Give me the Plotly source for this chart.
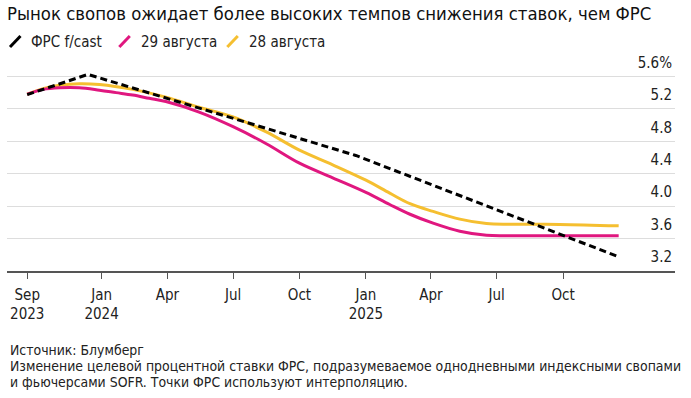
import plotly.graph_objects as go

# ---- data ----
fed_dates = ["2023-09-20", "2023-12-13", "2024-12-18", "2025-12-17"]
fed_vals = [5.375, 5.625, 4.625, 3.375]

aug29_dates = ["2023-09-20", "2023-10-12", "2023-11-04", "2023-12-01", "2023-12-29",
               "2024-01-21", "2024-02-13", "2024-03-07", "2024-03-30", "2024-05-15",
               "2024-07-01", "2024-08-16", "2024-10-01", "2024-11-16", "2025-01-01",
               "2025-02-03", "2025-03-03", "2025-04-04", "2025-05-11", "2025-06-17",
               "2025-07-19", "2025-09-26", "2025-12-17"]
aug29_vals = [5.38, 5.44, 5.46, 5.46, 5.43,
              5.40, 5.37, 5.33, 5.29, 5.16,
              4.98, 4.77, 4.53, 4.35, 4.17,
              4.02, 3.90, 3.79, 3.69, 3.64,
              3.635, 3.635, 3.635]

aug28_dates = ["2023-09-20", "2023-10-12", "2023-11-04", "2023-12-01", "2023-12-29",
               "2024-02-13", "2024-03-30", "2024-05-15", "2024-07-01", "2024-08-16",
               "2024-10-01", "2024-11-16", "2025-01-01", "2025-02-03", "2025-03-03",
               "2025-04-04", "2025-05-11", "2025-06-17", "2025-07-19", "2025-09-26",
               "2025-12-17"]
aug28_vals = [5.38, 5.45, 5.49, 5.51, 5.50,
              5.44, 5.345, 5.22, 5.10, 4.915,
              4.69, 4.51, 4.32, 4.16, 4.03,
              3.935, 3.84, 3.785, 3.776, 3.775,
              3.757]

series_names = ["ФРС f/cast", "29 августа", "28 августа"]

x_tick_vals = ["2023-09-20", "2024-01-01", "2024-04-01", "2024-07-01", "2024-10-01",
               "2025-01-01", "2025-04-01", "2025-07-01", "2025-10-01"]
x_tick_text = ["Sep<br>2023", "Jan<br>2024", "Apr", "Jul", "Oct",
               "Jan<br>2025", "Apr", "Jul", "Oct"]
y_tick_vals = [3.2, 3.6, 4.0, 4.4, 4.8, 5.2, 5.6]
y_tick_text = ["3.2", "3.6", "4.0", "4.4", "4.8", "5.2", "5.6%"]

title_text = "Рынок свопов ожидает более высоких темпов снижения ставок, чем ФРС"
footer_lines = [
    "Источник: Блумберг",
    "Изменение целевой процентной ставки ФРС, подразумеваемое однодневными индексными свопами",
    "и фьючерсами SOFR. Точки ФРС используют интерполяцию.",
]

# ---- styling / layout constants ----
FONT = "Liberation Sans Narrow, Arial Narrow, DejaVu Sans Condensed, Liberation Sans, sans-serif"
PINK = "#E0177F"
YELLOW = "#F5BF30"
BLACK = "#000000"
colors = [BLACK, PINK, YELLOW]

W, H = 691, 398
ML, MR, MT, MB = 7, 16, 43.5, 127
PW, PH = W - ML - MR, H - MT - MB


def px_x(px):
    return (px - ML) / PW


def px_y(py):
    return (H - MB - py) / PH


fig = go.Figure()
fig.add_trace(go.Scatter(x=aug28_dates, y=aug28_vals, name=series_names[2], mode="lines",
                         line=dict(color=YELLOW, width=3, shape="spline", smoothing=1.0)))
fig.add_trace(go.Scatter(x=aug29_dates, y=aug29_vals, name=series_names[1], mode="lines",
                         line=dict(color=PINK, width=3, shape="spline", smoothing=1.0)))
fig.add_trace(go.Scatter(x=fed_dates, y=fed_vals, name=series_names[0], mode="lines",
                         line=dict(color=BLACK, width=3, dash="7px,4px")))

fig.update_layout(
    width=W, height=H,
    margin=dict(l=ML, r=MR, t=MT, b=MB, autoexpand=False),
    paper_bgcolor="white", plot_bgcolor="rgba(0,0,0,0)",
    font=dict(family=FONT, size=14, color="#222"),
    title=dict(text=title_text, xref="container", x=7 / W, xanchor="left",
               yref="container", y=1 - 14 / H, yanchor="middle",
               font=dict(family=FONT, size=18.4, color="#111")),
    showlegend=False,
    xaxis=dict(type="date", range=["2023-08-23", "2026-03-05"],
               tickmode="array", tickvals=x_tick_vals, ticktext=x_tick_text,
               showgrid=False, zeroline=False,
               showline=True, linecolor="#555", linewidth=1.5,
               ticks="outside", ticklen=6, tickcolor="#555", tickwidth=1.2,
               ticklabelstandoff=3,
               tickfont=dict(family=FONT, size=15, color="#222")),
    yaxis=dict(range=[3.2, 6.0], side="right",
               tickmode="array", tickvals=y_tick_vals, ticktext=y_tick_text,
               showgrid=True, gridcolor="#DDDDDD", gridwidth=1,
               zeroline=False, showline=False, ticks="",
               ticklabelposition="inside", ticklabelshift=-14,
               tickfont=dict(family=FONT, size=15, color="#222")),
)

# legend emulation: short slash icons + labels
legend_icon_x = [10, 119.3, 227.3]
legend_text_x = [29.3, 139.3, 247.3]
for name, col, ix, tx in zip(series_names, colors, legend_icon_x, legend_text_x):
    fig.add_shape(type="line", xref="paper", yref="paper",
                  x0=px_x(ix), y0=px_y(46.5), x1=px_x(ix + 10.5), y1=px_y(35.5),
                  line=dict(color=col, width=3))
    fig.add_annotation(text=name, xref="paper", yref="paper", x=px_x(tx), xanchor="left",
                       y=px_y(41.5), yanchor="middle", showarrow=False,
                       font=dict(family=FONT, size=15, color="#222"))

footer_y = [350, 366, 382]
for line, fy in zip(footer_lines, footer_y):
    fig.add_annotation(text=line, xref="paper", yref="paper", x=px_x(8), xanchor="left",
                       y=px_y(fy), yanchor="middle", showarrow=False, align="left",
                       font=dict(family=FONT, size=13.9, color="#222"))

fig.write_html("out.html", config={"displayModeBar": False},
               post_script="document.body.style.margin='0px';")
